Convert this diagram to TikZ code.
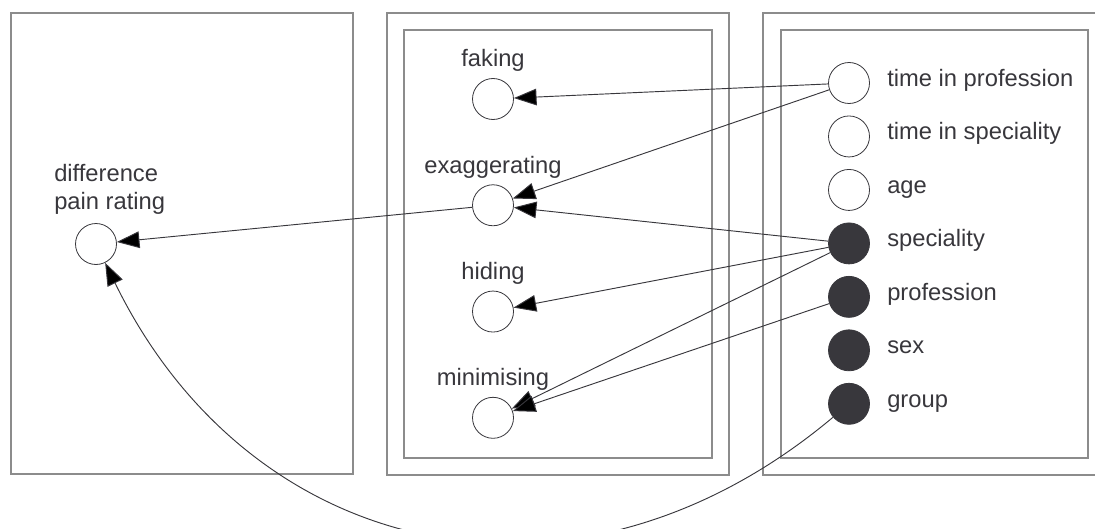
\documentclass[tikz,border=0pt]{standalone}
\usepackage{fontspec}
\setmainfont{Liberation Sans}
\usetikzlibrary{arrows.meta}

\definecolor{ink}{RGB}{56,55,60}
\definecolor{frame}{RGB}{140,140,140}

\tikzset{
    latent/.style={circle, draw=ink, line width=0.6pt, fill=white, minimum size=30.75pt, inner sep=0pt},
    observed/.style={latent, fill=ink},
    lbl/.style={text=ink, inner sep=0pt, font=\fontsize{17.8}{21}\selectfont},
    rlbl/.style={lbl, text height=0.73em, text depth=0.21em},
    panel/.style={draw=frame, line width=1.1pt},
    link/.style={draw=ink, line width=0.7pt, -{Triangle[length=17pt, width=12.5pt]}}
}

\begin{document}
\begin{tikzpicture}[x=0.75pt, y=-0.75pt]
    \useasboundingbox (0,0) rectangle (1095,528);
    \clip (0,0) rectangle (1095,528);

    % panels
    \draw [panel] (11,13) rectangle (353,474);
    \draw [panel] (387,13) rectangle (729,475);
    \draw [panel] (404,30) rectangle (712,458);
    \draw [panel] (763,13) rectangle (1110,475);
    \draw [panel] (781,30) rectangle (1088,458);

    % outcome
    \node (diff) [latent] at (96,244) {};
    \node (diffL) [lbl, align=left, above of=diff, node distance=60pt, xshift=-31.5pt, anchor=north west] {difference\\pain rating};

    % mediators
    \node (faking) [latent] at (493,99) {};
    \node (exag) [latent, below of=faking, node distance=79.7pt] {};
    \node (hiding) [latent, below of=exag, node distance=79.7pt] {};
    \node (minim) [latent, below of=hiding, node distance=79.7pt] {};

    \node (fakingL) [lbl, above of=faking, node distance=24pt, anchor=base] {faking};
    \node (exagL) [lbl, above of=exag, node distance=24pt, anchor=base] {exaggerating};
    \node (hidingL) [lbl, above of=hiding, node distance=24pt, anchor=base] {hiding};
    \node (minimL) [lbl, above of=minim, node distance=24pt, anchor=base] {minimising};

    % predictors
    \node (tprof) [latent] at (849,83) {};
    \node (tspec) [latent, below of=tprof, node distance=40.1pt] {};
    \node (age) [latent, below of=tspec, node distance=40.1pt] {};
    \node (spec) [observed, below of=age, node distance=40.1pt] {};
    \node (prof) [observed, below of=spec, node distance=40.1pt] {};
    \node (sex) [observed, below of=prof, node distance=40.1pt] {};
    \node (grp) [observed, below of=sex, node distance=40.1pt] {};

    \node (tprofL) [rlbl, right of=tprof, node distance=28.5pt, anchor=west] {time in profession};
    \node (tspecL) [rlbl, right of=tspec, node distance=28.5pt, anchor=west] {time in speciality};
    \node (ageL) [rlbl, right of=age, node distance=28.5pt, anchor=west] {age};
    \node (specL) [rlbl, right of=spec, node distance=28.5pt, anchor=west] {speciality};
    \node (profL) [rlbl, right of=prof, node distance=28.5pt, anchor=west] {profession};
    \node (sexL) [rlbl, right of=sex, node distance=28.5pt, anchor=west] {sex};
    \node (grpL) [rlbl, right of=grp, node distance=28.5pt, anchor=west] {group};

    \path [link] (tprof) edge (faking)
                 (tprof) edge (exag)
                 (exag) edge (diff)
                 (spec) edge (exag)
                 (spec) edge (hiding)
                 (spec) edge (minim)
                 (prof) edge (minim)
                 (grp) edge [bend left=52, looseness=1.15] (diff);
\end{tikzpicture}
\end{document}
